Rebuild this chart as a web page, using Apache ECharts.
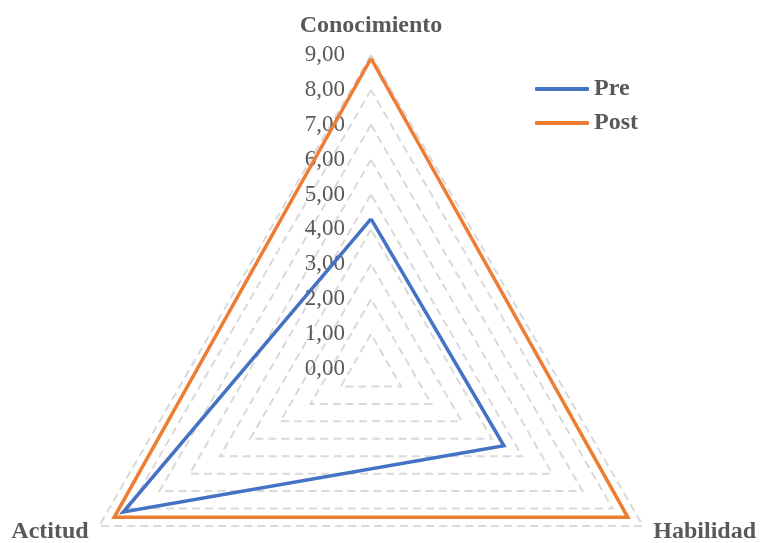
<!DOCTYPE html>
<html>
<head>
<meta charset="utf-8">
<script src="https://cdn.jsdelivr.net/npm/echarts@6/dist/echarts.min.js"></script>
<style>html,body{margin:0;padding:0;background:#fff}#c{width:761px;height:543px}</style>
</head>
<body>
<div id="c"></div>
<script>
var categories = ['Conocimiento', 'Actitud', 'Habilidad'];
var seriesNames = ['Pre', 'Post'];
var preValues = [4.3, 8.2, 4.4];
var postValues = [8.9, 8.5, 8.5];
var axisMax = 9;
var tickValues = [0, 1, 2, 3, 4, 5, 6, 7, 8, 9];

var serif = 'Liberation Serif';
var grayText = '#595959';
var chart = echarts.init(document.getElementById('c'));
chart.setOption({
  animation: false,
  legend: {
    orient: 'vertical',
    left: 535,
    top: 77,
    padding: 0,
    itemWidth: 54,
    itemHeight: 4,
    itemGap: 10,
    icon: 'roundRect',
    data: seriesNames,
    textStyle: { fontFamily: serif, fontWeight: 'bold', fontSize: 24, color: grayText }
  },
  radar: {
    center: [371, 369],
    radius: 314,
    startAngle: 90,
    shape: 'polygon',
    splitNumber: tickValues.length - 1,
    nameGap: 12,
    indicator: categories.map(function (c) { return { name: c, min: 0, max: axisMax }; }),
    axisName: {
      fontFamily: serif, fontWeight: 'bold', fontSize: 24, color: grayText,
      formatter: function (name) { return name === categories[0] ? '{top|' + name + '}' : name; },
      rich: { top: { fontFamily: serif, fontWeight: 'bold', fontSize: 24, color: grayText, padding: [0, 0, 5, 0] } }
    },
    axisLine: { show: false },
    axisTick: { show: false },
    axisLabel: { show: false },
    splitArea: { show: false },
    splitLine: { lineStyle: { color: '#D9D9D9', width: 2, type: [8, 5] } }
  },
  grid: { left: 350, top: 55, width: 10, height: 314 },
  xAxis: { type: 'value', show: false },
  yAxis: {
    type: 'value', min: tickValues[0], max: axisMax, interval: 1, position: 'left',
    axisLine: { show: false }, axisTick: { show: false }, splitLine: { show: false },
    axisLabel: {
      margin: 5, fontFamily: serif, fontSize: 23, color: grayText,
      formatter: function (v) { return v.toFixed(2).replace('.', ','); }
    }
  },
  series: [{
    type: 'radar',
    symbol: 'none',
    data: [
      { name: seriesNames[0], value: preValues, lineStyle: { color: '#4472C4', width: 3.5, join: 'miter' }, itemStyle: { color: '#4472C4' } },
      { name: seriesNames[1], value: postValues, lineStyle: { color: '#ED7D31', width: 3.5, join: 'miter' }, itemStyle: { color: '#ED7D31' } }
    ]
  }]
});
</script>
</body>
</html>
